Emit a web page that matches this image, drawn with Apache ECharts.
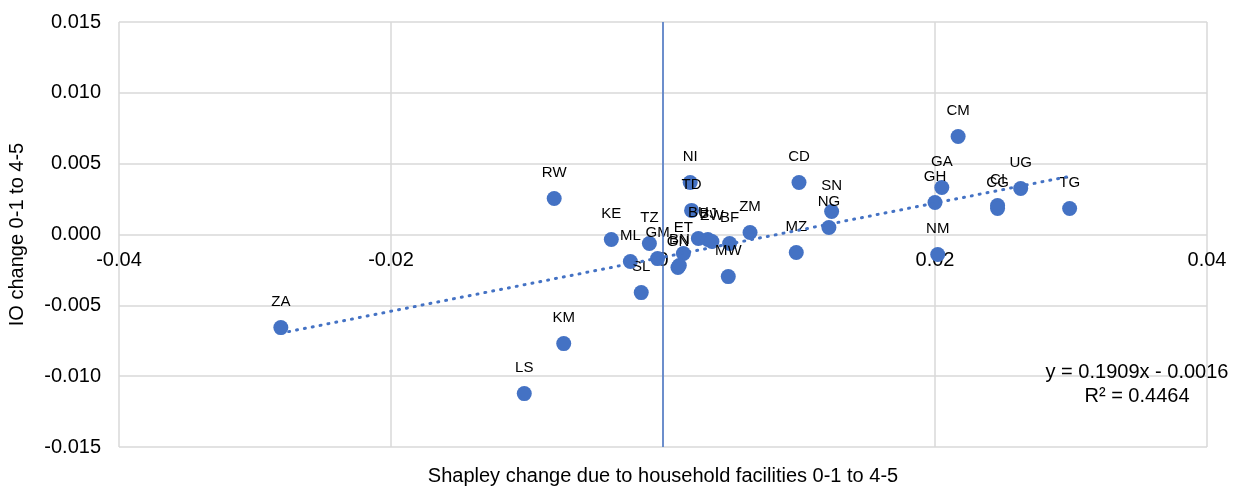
<!DOCTYPE html>
<html>
<head>
<meta charset="utf-8">
<script src="https://cdn.jsdelivr.net/npm/echarts@6/dist/echarts.min.js"></script>
<style>
html,body{margin:0;padding:0;background:#fff;}
#chart{width:1251px;height:488px;}
</style>
</head>
<body>
<div id="chart"></div>
<script>
// ---- data ----
const codes = ['ZA','LS','KM','RW','KE','ML','SL','TZ','GM','ET','GN','BN','NI','TD','BU','BJ','ZW','BF','ZM','MW','MZ','CD','SN','NG','CM','GA','GH','NM','CI','CG','UG','TG'];
const shapleyX = [-0.0281,-0.0102,-0.0073,-0.0080,-0.0038,-0.0024,-0.0016,-0.0010,-0.0004,0.0015,0.0011,0.0012,0.0020,0.0021,0.0026,0.0033,0.0036,0.0049,0.0064,0.0048,0.0098,0.0100,0.0124,0.0122,0.0217,0.0205,0.0200,0.0202,0.0246,0.0246,0.0263,0.0299];
const ioY = [-0.00657,-0.01123,-0.00770,0.00254,-0.00035,-0.00191,-0.00410,-0.00064,-0.00170,-0.00134,-0.00233,-0.00219,0.00367,0.00170,-0.00028,-0.00035,-0.00049,-0.00064,0.00014,-0.00297,-0.00127,0.00367,0.00162,0.00049,0.00692,0.00332,0.00226,-0.00141,0.00205,0.00184,0.00325,0.00184];
const xTicks = [-0.04,-0.02,0,0.02,0.04];
const yTicks = [-0.015,-0.010,-0.005,0.000,0.005,0.010,0.015];
const trendSlope = 0.1909;
const trendIntercept = -0.0016;
const trendR2 = 0.4464;
const xTitle = 'Shapley change due to household facilities 0-1 to 4-5';
const yTitle = 'IO change 0-1 to 4-5';

// ---- build ----
const points = codes.map((c,i)=>({name:c, value:[shapleyX[i], ioY[i]]}));
const xMin = Math.min(...shapleyX), xMax = Math.max(...shapleyX);
const trend = [[xMin, trendSlope*xMin+trendIntercept],[xMax, trendSlope*xMax+trendIntercept]];
const eqText = 'y = ' + trendSlope.toFixed(4) + 'x - ' + Math.abs(trendIntercept).toFixed(4) + '\nR² = ' + trendR2.toFixed(4);

const FONT = '"Liberation Sans", Arial, sans-serif';
const GRID_TOP = 22, GRID_BOTTOM = 41, H = 488;
const plotH = H - GRID_TOP - GRID_BOTTOM;
// x tick labels sit just below the y = 0 line (axis crosses at zero)
const zeroFromBottom = plotH * (0 - yTicks[0]) / (yTicks[yTicks.length-1] - yTicks[0]);

const chart = echarts.init(document.getElementById('chart'), null, {renderer:'canvas'});
chart.setOption({
  animation:false,
  backgroundColor:'#fff',
  textStyle:{fontFamily:FONT},
  grid:{left:119,right:44,top:GRID_TOP,bottom:GRID_BOTTOM,containLabel:false,outerBoundsMode:'none'},
  xAxis:{
    type:'value', position:'bottom', min:xTicks[0], max:xTicks[xTicks.length-1], interval:xTicks[1]-xTicks[0],
    name:xTitle, nameLocation:'middle', nameGap:19, nameMoveOverlap:false,
    nameTextStyle:{fontSize:20,color:'#000',fontFamily:FONT},
    axisLine:{show:false,onZero:false},
    axisTick:{show:false},
    axisLabel:{fontSize:20,color:'#000',margin:-(zeroFromBottom-16),fontFamily:FONT,
      formatter:v=>{const r=Math.round(v*100)/100; return r===0?'0':String(r);}},
    splitLine:{show:true,lineStyle:{color:'#d9d9d9',width:1.5}}
  },
  yAxis:{
    type:'value', min:yTicks[0], max:yTicks[yTicks.length-1], interval:0.005,
    name:yTitle, nameLocation:'middle', nameGap:92, nameMoveOverlap:false,
    nameTextStyle:{fontSize:20,color:'#000',fontFamily:FONT},
    axisLine:{show:false,onZero:false},
    axisTick:{show:false},
    axisLabel:{fontSize:20,color:'#000',margin:18,fontFamily:FONT,formatter:v=>v.toFixed(3)},
    splitLine:{show:true,lineStyle:{color:'#d9d9d9',width:1.5}}
  },
  series:[
    {
      type:'scatter', data:points, symbol:'circle', symbolSize:15, z:3,
      itemStyle:{color:'#4472C4',opacity:1},
      label:{show:true,position:'top',distance:11,formatter:'{b}',fontSize:15,color:'#000',fontFamily:FONT},
      markLine:{silent:true,symbol:'none',label:{show:false},
        lineStyle:{color:'#4472C4',width:1.5,type:'solid'},
        data:[{xAxis:0}]}
    },
    {
      type:'line', data:trend, showSymbol:false, symbol:'none', z:4, silent:true,
      lineStyle:{color:'#4472C4',width:3,type:[1,7],cap:'round'}
    }
  ],
  graphic:[{
    type:'text', left:1137-100, top:360, z:10,
    style:{text:eqText, width:200, textAlign:'center', fontSize:20, lineHeight:24, fill:'#000', font:'20px '+FONT}
  }]
});
</script>
</body>
</html>
